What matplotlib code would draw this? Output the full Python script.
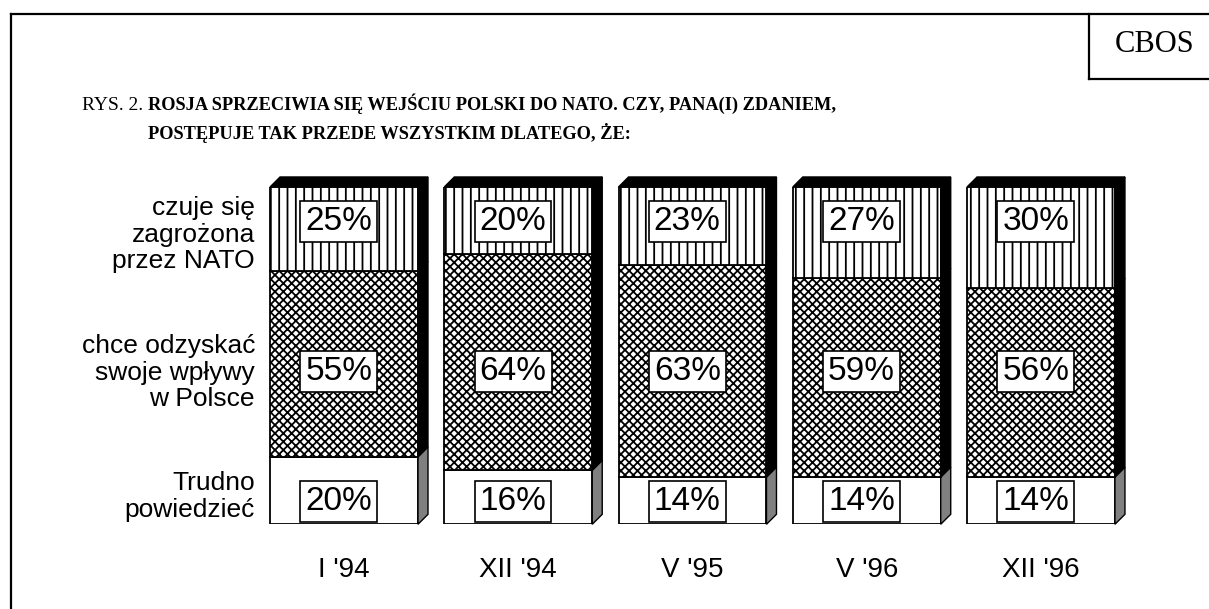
import matplotlib
matplotlib.use("Agg")
import matplotlib.pyplot as plt
from matplotlib.patches import Polygon
from matplotlib.lines import Line2D
import numpy as np

plt.rcParams['font.family'] = ['Liberation Sans', 'DejaVu Sans']
plt.rcParams['hatch.linewidth'] = 1.3

# data
waves = ["I '94", "XII '94", "V '95", "V '96", "XII '96"]
categories = ["Trudno\npowiedzieć",
              "chce odzyskać\nswoje wpływy\nw Polsce",
              "czuje się\nzagrożona\nprzez NATO"]
trudno = [20, 16, 14, 14, 14]
wplywy = [55, 64, 63, 59, 56]
zagrozona = [25, 20, 23, 27, 30]

series = [trudno, wplywy, zagrozona]
hatches = [None, 'xxxx', '||']
side_colors = ['#808080', 'black', 'black']
label_y = [6.8, 45.3, 89.7]       # fixed heights of the value boxes
cat_y = [8.2, 44.9, 85.8]

fig = plt.figure(figsize=(12.09, 6.09), dpi=100)
ax = fig.add_axes([0.2125, 0.1391, 0.7206, 0.5539])
ax.set_xlim(-0.5, 4.5)
ax.set_ylim(0, 100)
ax.axis('off')

x = np.arange(len(waves))
width = 0.849
dx = 0.0574   # depth of the fake 3d block
dy = 2.96

bottom = np.zeros(len(waves))
for vals, h, sc in zip(series, hatches, side_colors):
    vals = np.array(vals, dtype=float)
    ax.bar(x, vals, width, bottom=bottom, color='white', edgecolor='black',
           hatch=h, linewidth=1.3, zorder=2)
    for xi, b, v in zip(x, bottom, vals):
        x1 = xi + width / 2
        side = Polygon([(x1, b), (x1 + dx, b + dy), (x1 + dx, b + v + dy), (x1, b + v)],
                       closed=True, facecolor=sc, edgecolor='black', linewidth=1.0,
                       clip_on=False, zorder=2)
        ax.add_patch(side)
    bottom = bottom + vals

# top faces
for xi, t in zip(x, bottom):
    x0 = xi - width / 2
    x1 = xi + width / 2
    top = Polygon([(x0, t), (x0 + dx, t + dy), (x1 + dx, t + dy), (x1, t)],
                  closed=True, facecolor='black', edgecolor='black', linewidth=1.0,
                  clip_on=False, zorder=2)
    ax.add_patch(top)

# value boxes
for vals, ly in zip(series, label_y):
    for xi, v in zip(x, vals):
        ax.text(xi - 0.03, ly, f"{v}%", ha='center', va='center', fontsize=24,
                zorder=5,
                bbox=dict(boxstyle='square,pad=0.15', facecolor='white',
                          edgecolor='black', linewidth=1.2))

# category names on the left
for name, cy in zip(categories, cat_y):
    ax.text(-0.511, cy, name, ha='right', va='center', fontsize=19,
            linespacing=1.13, clip_on=False)

# wave labels under bars
for xi, w in zip(x, waves):
    ax.text(xi, -15.5, w, ha='center', va='baseline', fontsize=20, clip_on=False)

# title
W, H = 1209.0, 609.0
fig.text(143 / W, 1 - 110 / H, "RYS. 2.", fontsize=14, family='Liberation Serif',
         ha='right', va='baseline')
fig.text(148 / W, 1 - 110 / H,
         "ROSJA SPRZECIWIA SIĘ WEJŚCIU POLSKI DO NATO. CZY, PANA(I) ZDANIEM,",
         fontsize=13.2, family='Liberation Serif', fontweight='bold', va='baseline')
fig.text(148 / W, 1 - 139 / H, "POSTĘPUJE TAK PRZEDE WSZYSTKIM DLATEGO, ŻE:",
         fontsize=13.2, family='Liberation Serif', fontweight='bold', va='baseline')

fig.text(1155 / W, 1 - 45 / H, "CBOS", fontsize=22, family='Liberation Serif',
         ha='center', va='center')

# frame around the figure and the CBOS box
frame = [((11, 11), (0, H - 14)), ((11, W), (H - 14, H - 14)),
         ((1089, 1089), (H - 14, H - 79)), ((1089, W), (H - 79, H - 79))]
for xs, ys in frame:
    fig.add_artist(Line2D([xs[0] / W, xs[1] / W], [ys[0] / H, ys[1] / H],
                          color='black', linewidth=1.6))

fig.savefig("out.png", dpi=100)
